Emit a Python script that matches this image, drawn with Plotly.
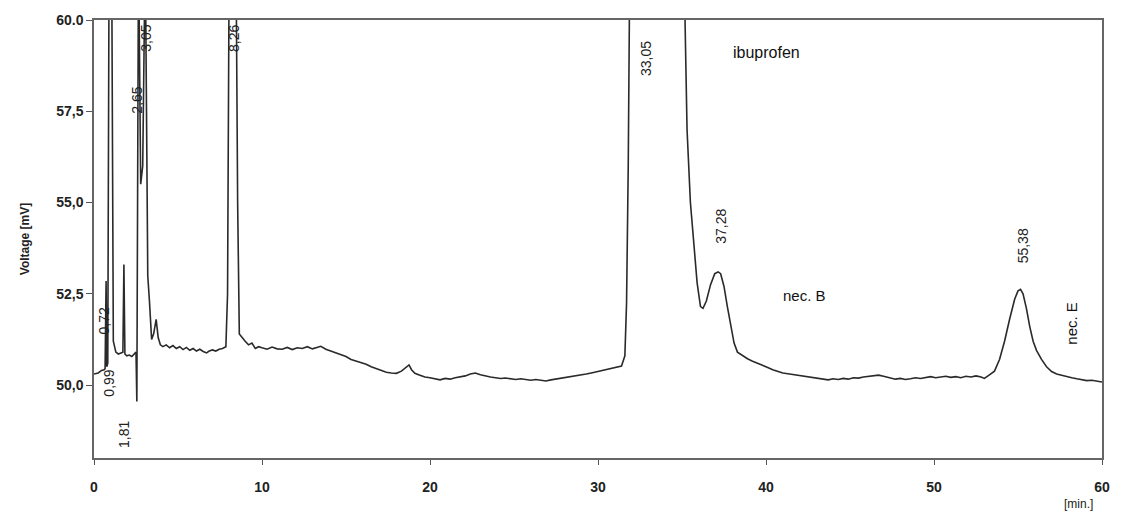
import plotly.graph_objects as go

# Retention time (min) and detector signal (mV); off-scale peaks are given values above 60
time_min = [
    0.00, 0.25, 0.45, 0.60, 0.66, 0.72, 0.76, 0.82, 0.90, 1.05, 1.15, 1.30, 1.45, 1.60, 1.72,
    1.78, 1.84, 1.95, 2.10, 2.25, 2.40, 2.50, 2.55, 2.60, 2.65, 2.78, 2.90, 3.05, 3.20, 3.30,
    3.43, 3.55, 3.70, 3.82, 3.95, 4.10, 4.30, 4.50, 4.70, 4.90, 5.10, 5.30, 5.50, 5.70, 5.90,
    6.10, 6.30, 6.50, 6.70, 6.86, 7.05, 7.25, 7.45, 7.65, 7.85, 7.95, 8.05, 8.45, 8.55, 8.65,
    8.80, 9.00, 9.20, 9.40, 9.60, 9.80, 10.0, 10.3, 10.6, 10.9, 11.2, 11.5, 11.8, 12.1, 12.4,
    12.7, 13.0, 13.3, 13.5, 13.8, 14.1, 14.4, 14.7, 15.0, 15.3, 15.6, 15.9, 16.2, 16.5, 16.8,
    17.1, 17.4, 17.7, 18.0, 18.3, 18.6, 18.75, 18.9, 19.1, 19.4, 19.7, 20.0, 20.3, 20.6, 20.9,
    21.2, 21.5, 21.8, 22.1, 22.4, 22.7, 23.0, 23.3, 23.6, 23.9, 24.2, 24.5, 24.8, 25.1, 25.4,
    25.7, 26.0, 26.3, 26.6, 26.9, 27.2, 27.5, 27.8, 28.1, 28.4, 28.7, 29.0, 29.3, 29.6, 29.9,
    30.2, 30.5, 30.8, 31.1, 31.4, 31.6, 31.7, 31.8, 31.9, 35.1, 35.3, 35.5, 35.7, 35.9, 36.1,
    36.25, 36.45, 36.7, 36.95, 37.15, 37.3, 37.5, 37.7, 37.9, 38.1, 38.3, 38.6, 38.9, 39.2, 39.5,
    39.8, 40.1, 40.4, 40.7, 41.0, 41.4, 41.8, 42.2, 42.6, 43.0, 43.4, 43.7, 44.0, 44.3, 44.6,
    44.9, 45.2, 45.5, 45.8, 46.1, 46.4, 46.7, 47.0, 47.3, 47.7, 48.0, 48.3, 48.6, 48.9, 49.2,
    49.5, 49.8, 50.1, 50.4, 50.7, 51.0, 51.3, 51.6, 51.9, 52.2, 52.5, 52.8, 53.0, 53.3, 53.6,
    53.9, 54.2, 54.5, 54.8, 55.0, 55.15, 55.3, 55.5, 55.7, 55.9, 56.1, 56.4, 56.7, 57.0, 57.3,
    57.6, 57.9, 58.2, 58.5, 58.8, 59.1, 59.4, 59.7, 60.0,
]
signal_mv = [
    50.30, 50.33, 50.40, 50.42, 50.45, 52.85, 50.50, 50.60, 62.0, 62.0, 51.20, 50.90, 50.85, 50.88, 50.90,
    53.30, 50.85, 50.80, 50.82, 50.78, 50.85, 50.90, 49.55, 55.0, 62.0, 55.5, 56.0, 62.0, 53.0, 52.3,
    51.25, 51.40, 51.80, 51.30, 51.10, 51.05, 51.10, 51.02, 51.08, 51.00, 51.05, 50.97, 51.03, 50.95, 51.00,
    50.93, 50.98, 50.92, 50.88, 50.93, 50.96, 50.93, 50.98, 51.00, 51.05, 52.5, 62.0, 62.0, 55.0, 51.40,
    51.30, 51.20, 51.10, 51.15, 51.00, 51.05, 51.02, 50.98, 51.04, 50.99, 50.98, 51.03, 50.97, 51.02, 51.00,
    51.05, 50.99, 51.03, 51.06, 50.98, 50.93, 50.88, 50.82, 50.78, 50.70, 50.66, 50.62, 50.57, 50.50, 50.45,
    50.40, 50.35, 50.33, 50.32, 50.38, 50.48, 50.55, 50.42, 50.32, 50.27, 50.22, 50.20, 50.16, 50.14, 50.18,
    50.16, 50.20, 50.22, 50.25, 50.30, 50.33, 50.28, 50.24, 50.22, 50.20, 50.18, 50.19, 50.16, 50.15, 50.17,
    50.14, 50.13, 50.15, 50.12, 50.11, 50.14, 50.16, 50.19, 50.21, 50.23, 50.26, 50.28, 50.30, 50.33, 50.36,
    50.39, 50.42, 50.45, 50.47, 50.52, 50.80, 52.25, 56.0, 62.0, 62.0, 57.0, 55.0, 53.8, 52.8, 52.15,
    52.10, 52.30, 52.75, 53.05, 53.10, 53.05, 52.70, 52.15, 51.60, 51.15, 50.90, 50.80, 50.72, 50.65, 50.60,
    50.55, 50.48, 50.42, 50.38, 50.33, 50.30, 50.27, 50.24, 50.22, 50.19, 50.16, 50.14, 50.17, 50.15, 50.18,
    50.16, 50.20, 50.19, 50.22, 50.24, 50.25, 50.27, 50.24, 50.20, 50.16, 50.18, 50.15, 50.17, 50.20, 50.18,
    50.21, 50.23, 50.20, 50.22, 50.24, 50.21, 50.23, 50.20, 50.24, 50.22, 50.25, 50.22, 50.18, 50.28, 50.38,
    50.70, 51.20, 51.80, 52.35, 52.58, 52.62, 52.50, 52.10, 51.60, 51.20, 50.95, 50.70, 50.50, 50.37, 50.30,
    50.26, 50.22, 50.20, 50.17, 50.15, 50.12, 50.13, 50.10, 50.08,
]

# Axis ticks
x_ticks = [0, 10, 20, 30, 40, 50, 60]
y_ticks = [50.0, 52.5, 55.0, 57.5, 60.0]
y_tick_text = ["50,0", "52,5", "55,0", "57,5", "60.0"]

# Retention-time labels placed beside peaks: (text, x, y)
peak_labels = [
    ("0,72", 0.62, 51.75),
    ("0,99", 0.92, 50.05),
    ("1,81", 1.83, 48.65),
    ("2,65", 2.58, 57.8),
    ("3,05", 3.12, 59.5),
    ("8,26", 8.32, 59.5),
    ("33,05", 32.9, 58.95),
    ("37,28", 37.35, 54.35),
    ("55,38", 55.3, 53.8),
]
# Compound names: (text, x, y, angle, size)
compound_labels = [
    ("ibuprofen", 40.0, 59.1, 0, 16),
    ("nec. B", 42.3, 52.45, 0, 15),
    ("nec. E", 58.2, 51.7, -90, 15),
]

FONT = "Liberation Sans, Arial, sans-serif"

fig = go.Figure()
fig.add_trace(go.Scatter(
    x=time_min, y=signal_mv, mode="lines",
    line=dict(color="#2a2a2a", width=1.6),
    hoverinfo="skip", showlegend=False,
))

annotations = []
for text, x, y in peak_labels:
    annotations.append(dict(
        x=x, y=y, xref="x", yref="y", text=text, textangle=-90,
        showarrow=False, font=dict(family=FONT, size=14, color="#222"),
    ))
for text, x, y, ang, sz in compound_labels:
    annotations.append(dict(
        x=x, y=y, xref="x", yref="y", text=text, textangle=ang,
        showarrow=False, font=dict(family=FONT, size=sz, color="#111"),
    ))
annotations.append(dict(
    x=0.977, y=-0.106, xref="paper", yref="paper", text="[min.]", showarrow=False,
    xanchor="center", yanchor="middle",
    font=dict(family=FONT, size=12, color="#222"),
))

fig.update_layout(
    width=1122, height=518,
    margin=dict(l=94, r=14, t=15, b=60),
    paper_bgcolor="white", plot_bgcolor="white",
    font=dict(family=FONT, color="#222"),
    annotations=annotations,
    xaxis=dict(
        range=[0, 60], tickvals=x_ticks, ticks="outside", ticklen=5, tickcolor="#555",
        showline=True, linecolor="#666", linewidth=1.5, mirror=True,
        showgrid=False, zeroline=False, ticklabelstandoff=10,
        tickfont=dict(family=FONT, size=14, color="#222", weight="bold"),
    ),
    yaxis=dict(
        range=[48, 60], tickvals=y_ticks, ticktext=y_tick_text,
        ticks="outside", ticklen=6, tickcolor="#555",
        showline=True, linecolor="#666", linewidth=1.5, mirror=True,
        showgrid=False, zeroline=False,
        tickfont=dict(family=FONT, size=14, color="#222", weight="bold"),
        title=dict(text="Voltage [mV]", standoff=24,
                   font=dict(family=FONT, size=12, color="#222", weight="bold")),
    ),
)

fig.write_html("out.html")
